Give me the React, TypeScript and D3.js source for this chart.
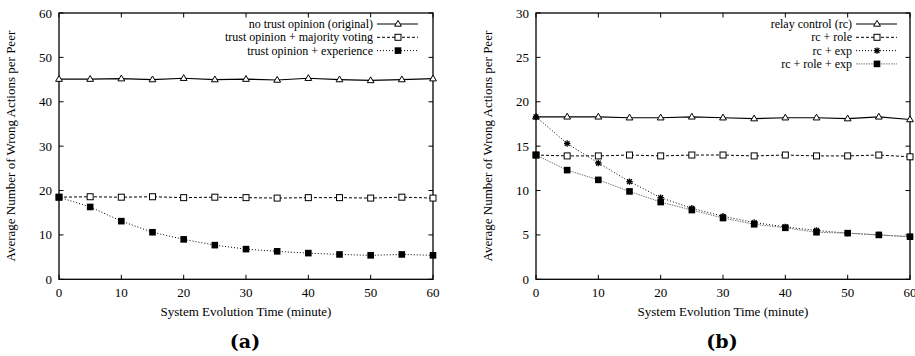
import React, { useEffect, useRef } from 'react';
import * as d3 from 'd3';

// x values (minutes)
const times = [0, 5, 10, 15, 20, 25, 30, 35, 40, 45, 50, 55, 60];

// panel (a)
const noTrust = [45.1, 45.1, 45.2, 45.0, 45.3, 45.0, 45.1, 44.9, 45.3, 45.0, 44.8, 45.0, 45.2];
const majorityVoting = [18.5, 18.6, 18.5, 18.6, 18.4, 18.5, 18.4, 18.3, 18.4, 18.4, 18.3, 18.5, 18.3];
const trustExperience = [18.5, 16.3, 13.1, 10.6, 9.0, 7.7, 6.8, 6.3, 5.9, 5.6, 5.4, 5.6, 5.4];

// panel (b)
const relayControl = [18.3, 18.3, 18.3, 18.2, 18.2, 18.3, 18.2, 18.1, 18.2, 18.2, 18.1, 18.3, 18.0];
const rcRole = [14.0, 13.9, 13.9, 14.0, 13.9, 14.0, 14.0, 13.9, 14.0, 13.9, 13.9, 14.0, 13.8];
const rcExp = [18.3, 15.3, 13.1, 11.0, 9.2, 8.0, 7.1, 6.4, 5.9, 5.5, 5.2, 5.0, 4.8];
const rcRoleExp = [14.0, 12.3, 11.2, 9.9, 8.7, 7.8, 6.9, 6.2, 5.8, 5.3, 5.2, 5.0, 4.8];

const xTicks = [0, 10, 20, 30, 40, 50, 60];
const yTicksA = [0, 10, 20, 30, 40, 50, 60];
const yTicksB = [0, 5, 10, 15, 20, 25, 30];

type Marker = 'triangle' | 'openSquare' | 'filledSquare' | 'star';

interface Series {
  name: string;
  values: number[];
  marker: Marker;
  dash: string | null;
  color: string;
}

const seriesA: Series[] = [
  { name: 'no trust opinion (original)', values: noTrust, marker: 'triangle', dash: null, color: '#000' },
  { name: 'trust opinion + majority voting', values: majorityVoting, marker: 'openSquare', dash: '3,2', color: '#000' },
  { name: 'trust opinion + experience', values: trustExperience, marker: 'filledSquare', dash: '1,2', color: '#000' },
];

const seriesB: Series[] = [
  { name: 'relay control (rc)', values: relayControl, marker: 'triangle', dash: null, color: '#000' },
  { name: 'rc + role', values: rcRole, marker: 'openSquare', dash: '3,2', color: '#000' },
  { name: 'rc + exp', values: rcExp, marker: 'star', dash: '1,2', color: '#000' },
  { name: 'rc + role + exp', values: rcRoleExp, marker: 'filledSquare', dash: '1.5,1', color: '#777' },
];

const FONT = "'Liberation Serif', 'DejaVu Serif', serif";

interface PanelProps {
  left: number;
  right: number;
  yMax: number;
  yTicks: number[];
  series: Series[];
  label: string;
  legendTextEnd: number;
}

const drawMarker = (
  g: d3.Selection<SVGGElement, unknown, null, undefined>,
  marker: Marker,
  x: number,
  y: number
) => {
  if (marker === 'triangle') {
    g.append('path')
      .attr('d', `M${x},${y - 3.6}L${x + 3.4},${y + 2.2}L${x - 3.4},${y + 2.2}Z`)
      .attr('fill', '#fff')
      .attr('stroke', '#000')
      .attr('stroke-width', 1);
  } else if (marker === 'openSquare') {
    g.append('rect')
      .attr('x', x - 3).attr('y', y - 3)
      .attr('width', 6).attr('height', 6)
      .attr('fill', '#fff')
      .attr('stroke', '#000')
      .attr('stroke-width', 1);
  } else if (marker === 'filledSquare') {
    g.append('rect')
      .attr('x', x - 3.3).attr('y', y - 3.3)
      .attr('width', 6.6).attr('height', 6.6)
      .attr('fill', '#000');
  } else {
    const r = 3.2;
    g.append('path')
      .attr('d', `M${x - r},${y}H${x + r}M${x},${y - r}V${y + r}M${x - r * 0.75},${y - r * 0.75}L${x + r * 0.75},${y + r * 0.75}M${x - r * 0.75},${y + r * 0.75}L${x + r * 0.75},${y - r * 0.75}`)
      .attr('stroke', '#000')
      .attr('stroke-width', 1.3);
  }
};

const Panel: React.FC<PanelProps> = ({ left, right, yMax, yTicks, series, label, legendTextEnd }) => {
  const gRef = useRef<SVGGElement>(null);

  useEffect(() => {
    const el = gRef.current;
    if (!el) return;
    const g = d3.select(el);
    g.selectAll('*').remove();

    const top = 13;
    const bottom = 279.3;

    const x = d3.scaleLinear().domain([0, 60]).range([left, right]);
    const y = d3.scaleLinear().domain([0, yMax]).range([bottom, top]);

    const addText = (tx: number, ty: number, anchor: string, txt: string | number, size = 13) =>
      g.append('text')
        .attr('x', tx)
        .attr('y', ty)
        .attr('text-anchor', anchor)
        .attr('font-family', FONT)
        .attr('font-size', size)
        .text(txt);

    // inward ticks on all four sides
    const tickLen = 4.5;
    yTicks.forEach(t => {
      g.append('line').attr('x1', left).attr('x2', left + tickLen).attr('y1', y(t)).attr('y2', y(t))
        .attr('stroke', '#000').attr('stroke-width', 1);
      g.append('line').attr('x1', right).attr('x2', right - tickLen).attr('y1', y(t)).attr('y2', y(t))
        .attr('stroke', '#000').attr('stroke-width', 1);
      addText(left - 7, y(t) + 4.5, 'end', t);
    });
    xTicks.forEach(t => {
      g.append('line').attr('x1', x(t)).attr('x2', x(t)).attr('y1', bottom).attr('y2', bottom - tickLen)
        .attr('stroke', '#000').attr('stroke-width', 1);
      g.append('line').attr('x1', x(t)).attr('x2', x(t)).attr('y1', top).attr('y2', top + tickLen)
        .attr('stroke', '#000').attr('stroke-width', 1);
      addText(x(t), bottom + 18, 'middle', t);
    });

    // frame
    g.append('rect')
      .attr('x', left).attr('y', top)
      .attr('width', right - left).attr('height', bottom - top)
      .attr('fill', 'none')
      .attr('stroke', '#000')
      .attr('stroke-width', 1.3);

    // axis titles
    addText((left + right) / 2, bottom + 37, 'middle', 'System Evolution Time (minute)');

    g.append('text')
      .attr('transform', `translate(${left - 44}, ${(top + bottom) / 2}) rotate(-90)`)
      .attr('text-anchor', 'middle')
      .attr('font-family', FONT)
      .attr('font-size', 13)
      .text('Average Number of Wrong Actions per Peer');

    g.append('text')
      .attr('x', (left + right) / 2 - 1)
      .attr('y', 348)
      .attr('text-anchor', 'middle')
      .attr('font-family', "'DejaVu Serif', serif")
      .attr('font-size', 19)
      .attr('font-weight', 'bold')
      .text(label);

    const line = d3.line<number>()
      .x((_, i) => x(times[i]))
      .y(d => y(d));

    series.forEach(s => {
      g.append('path')
        .datum(s.values)
        .attr('fill', 'none')
        .attr('stroke', s.color)
        .attr('stroke-width', s.dash ? 1 : 1.2)
        .attr('stroke-dasharray', s.dash)
        .attr('d', line);
    });

    series.forEach(s => {
      s.values.forEach((v, i) => drawMarker(g, s.marker, x(times[i]), y(v)));
    });

    // legend
    const rowH = 13.3;
    series.forEach((s, i) => {
      const ly = 24 + i * rowH;
      addText(legendTextEnd, ly + 4, 'end', s.name, 12);
      g.append('line')
        .attr('x1', legendTextEnd + 4)
        .attr('x2', legendTextEnd + 45)
        .attr('y1', ly).attr('y2', ly)
        .attr('stroke', s.color)
        .attr('stroke-width', s.dash ? 1 : 1.2)
        .attr('stroke-dasharray', s.dash);
      drawMarker(g, s.marker, legendTextEnd + 25, ly);
    });
  }, [left, right, yMax, yTicks, series, label, legendTextEnd]);

  return <g ref={gRef} />;
};

export default function App() {
  return (
    <div style={{ position: 'absolute', left: 0, top: 0 }}>
      <svg width={915} height={356} style={{ display: 'block', background: '#fff', fontFamily: FONT }}>
        <Panel left={59} right={433} yMax={60} yTicks={yTicksA} series={seriesA} label="(a)" legendTextEnd={373} />
        <Panel left={536} right={910} yMax={30} yTicks={yTicksB} series={seriesB} label="(b)" legendTextEnd={852} />
      </svg>
    </div>
  );
}
